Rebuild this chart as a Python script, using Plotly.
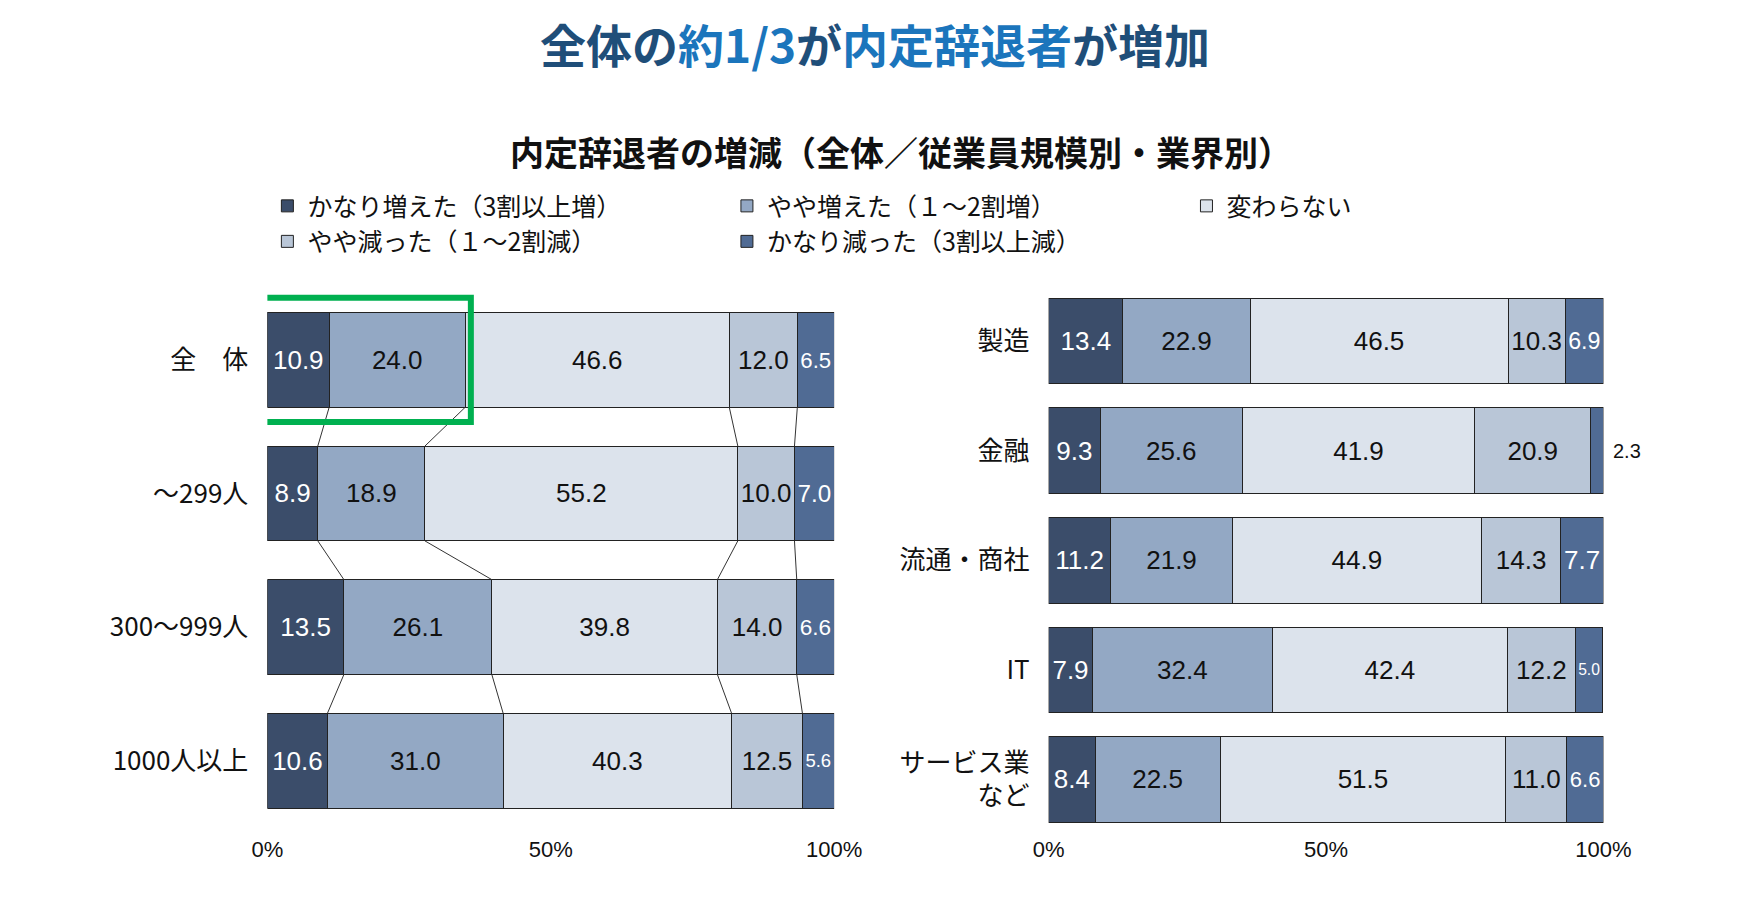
import plotly.graph_objects as go

series = ["かなり増えた（3割以上増）", "やや増えた（１～2割増）", "変わらない", "やや減った（１～2割減）", "かなり減った（3割以上減）"]
colors = ["#3b4d6a", "#93a8c4", "#dce3ec", "#b9c6d7", "#506b94"]
text_colors = ["white", "#111", "#111", "#111", "white"]

left_cats = ["全　体", "～299人", "300～999人", "1000人以上"]
left_vals = [
    [10.9, 8.9, 13.5, 10.6],
    [24.0, 18.9, 26.1, 31.0],
    [46.6, 55.2, 39.8, 40.3],
    [12.0, 10.0, 14.0, 12.5],
    [6.5, 7.0, 6.6, 5.6],
]
right_cats = ["製造", "金融", "流通・商社", "IT", "サービス業<br>など"]
right_vals = [
    [13.4, 9.3, 11.2, 7.9, 8.4],
    [22.9, 25.6, 21.9, 32.4, 22.5],
    [46.5, 41.9, 44.9, 42.4, 51.5],
    [10.3, 20.9, 14.3, 12.2, 11.0],
    [6.9, 2.3, 7.7, 5.0, 6.6],
]

NUM_FONT = "Liberation Sans Narrow, Liberation Sans"
fig = go.Figure()
LW, RW = 0.71, 0.78
for k, name in enumerate(series):
    fig.add_trace(go.Bar(
        x=left_vals[k], y=list(range(len(left_cats))), orientation="h", name=name,
        marker=dict(color=colors[k], line=dict(color="#222", width=1)), width=LW,
        text=[f"{v:.1f}" for v in left_vals[k]], textposition="inside", insidetextanchor="middle",
        textfont=dict(color=text_colors[k], size=26, family=NUM_FONT), textangle=0,
        xaxis="x", yaxis="y", hoverinfo="x+name"))
    fig.add_trace(go.Bar(
        x=right_vals[k], y=list(range(len(right_cats))), orientation="h", name=name, showlegend=False,
        marker=dict(color=colors[k], line=dict(color="#222", width=1)), width=RW,
        text=[f"{v:.1f}" if v > 3 else "" for v in right_vals[k]], textposition="inside", insidetextanchor="middle",
        textfont=dict(color=text_colors[k], size=26, family=NUM_FONT), textangle=0,
        xaxis="x2", yaxis="y2", hoverinfo="x+name"))

# small values placed outside the bar
for i in range(len(right_cats)):
    if right_vals[4][i] <= 3:
        fig.add_annotation(x=100, y=i, xref="x2", yref="y2", text=f"{right_vals[4][i]:.1f}", showarrow=False,
                           xanchor="left", xshift=8, font=dict(size=20, color="#111", family=NUM_FONT))

# connector lines between left bars
for k in range(len(series) - 1):
    for i in range(len(left_cats) - 1):
        a = sum(left_vals[j][i] for j in range(k + 1))
        b = sum(left_vals[j][i + 1] for j in range(k + 1))
        fig.add_trace(go.Scatter(x=[a, b], y=[i + LW / 2, i + 1 - LW / 2], mode="lines",
                                 line=dict(color="#333", width=1), showlegend=False, hoverinfo="skip",
                                 xaxis="x", yaxis="y"))

# green highlight around first row
fig.add_shape(type="rect", xref="x", yref="y", x0=-2.2, x1=left_vals[0][0] + left_vals[1][0] + 1,
              y0=-LW / 2 - 0.11, y1=LW / 2 + 0.11, line=dict(color="#00b050", width=6))

xcommon = dict(range=[0, 100], tickvals=[0, 50, 100], ticktext=["0%", "50%", "100%"], showgrid=False,
               zeroline=False, tickfont=dict(size=22, color="#111", family=NUM_FONT), ticks="")
fig.update_layout(
    width=1746, height=898, paper_bgcolor="white", plot_bgcolor="white", barmode="stack",
    margin=dict(l=0, r=0, t=0, b=0),
    xaxis=dict(domain=[0.143, 0.476], anchor="y", **xcommon),
    yaxis=dict(domain=[0.08, 0.69], range=[3.55, -0.55], tickvals=list(range(4)), ticktext=left_cats,
               tickfont=dict(size=26, color="#111", family="Noto Sans CJK JP"), ticks="", showline=False,
               ticklabelstandoff=18),
    xaxis2=dict(domain=[0.602, 0.928], anchor="y2", **xcommon),
    yaxis2=dict(domain=[0.08, 0.69], range=[4.5, -0.5], tickvals=list(range(5)), ticktext=right_cats,
                tickfont=dict(size=26, color="#111", family="Noto Sans CJK JP"), ticks="", anchor="x2",
                ticklabelstandoff=18),
    legend=dict(orientation="h", x=0.143, y=0.805, xanchor="left", yanchor="top", entrywidth=0.27,
                entrywidthmode="fraction", traceorder="normal", tracegroupgap=0,
                font=dict(size=25, color="#111", family="Noto Sans CJK JP")),
    font=dict(family="Noto Sans CJK JP"),
)
fig.add_annotation(x=0.5, y=1.0, xref="paper", yref="paper", yanchor="top", showarrow=False,
                   text="<b><span style='color:#1f4e79'>全体の</span><span style='color:#1b75bc'>約1/3</span>"
                        "<span style='color:#1f4e79'>が</span><span style='color:#1b75bc'>内定辞退者</span>"
                        "<span style='color:#1f4e79'>が増加</span></b>",
                   font=dict(size=46, family="Noto Sans CJK JP"))
fig.add_annotation(x=0.515, y=0.87, xref="paper", yref="paper", showarrow=False,
                   text="<b>内定辞退者の増減（全体／従業員規模別・業界別）</b>",
                   font=dict(size=34, color="#111", family="Noto Sans CJK JP"))

fig.write_html("out.html")
